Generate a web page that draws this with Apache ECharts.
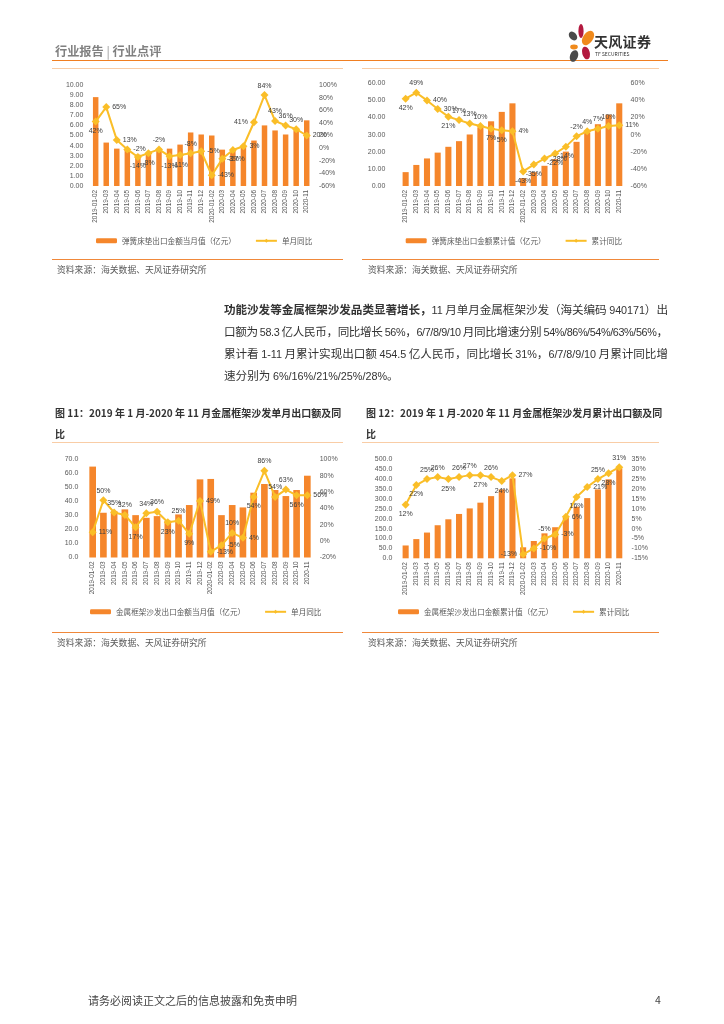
<!DOCTYPE html>
<html>
<head>
<meta charset="utf-8">
<script src="https://cdn.jsdelivr.net/npm/echarts@6/dist/echarts.min.js"></script>
<style>
  html,body{margin:0;padding:0;background:#fff;}
  body{width:724px;height:1024px;position:relative;overflow:hidden;font-family:"Noto Sans CJK SC","Noto Sans",sans-serif;}
  #chart{position:absolute;left:0;top:0;width:724px;height:1024px;}
  .t{position:absolute;white-space:nowrap;}
  .hl{position:absolute;height:0;}
  .para{position:absolute;left:224px;font-size:11.6px;line-height:16px;color:#333;white-space:nowrap;}
  .para .lat{font-size:10.8px;font-family:"Liberation Sans","Noto Sans",sans-serif;}
  .src{position:absolute;font-size:8.8px;color:#595959;}
  .ft{position:absolute;font-size:10px;font-weight:bold;color:#333;}
</style>
</head>
<body>
<div id="chart"></div>

<!-- header -->
<div class="t" style="left:55px;top:42px;font-size:12.2px;color:#808080;font-weight:bold;">行业报告 <span style="font-weight:normal;color:#999">|</span> 行业点评</div>
<div class="hl" style="left:52px;top:60px;width:616px;border-top:1.5px solid #F07F22;"></div>
<svg style="position:absolute;left:566px;top:22px" width="30" height="42" viewBox="0 0 30 42">
  <ellipse cx="15" cy="9" rx="2.6" ry="7" fill="#B3193F"/>
  <ellipse cx="7" cy="14" rx="3.6" ry="5" transform="rotate(-40 7 14)" fill="#4A4A4A"/>
  <ellipse cx="22" cy="16" rx="5" ry="8" transform="rotate(35 22 16)" fill="#F08A1C"/>
  <ellipse cx="8" cy="25" rx="3.8" ry="2.4" fill="#F08A1C"/>
  <ellipse cx="8" cy="34" rx="4" ry="6" transform="rotate(20 8 34)" fill="#4A4A4A"/>
  <ellipse cx="20" cy="31" rx="3.8" ry="6.5" transform="rotate(-15 20 31)" fill="#B3193F"/>
</svg>
<div class="t" style="left:594px;top:31px;font-size:14px;font-weight:bold;color:#333;letter-spacing:0.3px;">天风证券</div>
<div class="t" style="left:595px;top:50px;font-size:5px;color:#333;">TF SECURITIES</div>

<!-- panel lines top -->
<div class="hl" style="left:52px;top:68px;width:291px;border-top:1.2px solid #F9CDA6;"></div>
<div class="hl" style="left:362px;top:68px;width:297px;border-top:1.2px solid #F9CDA6;"></div>
<div class="hl" style="left:52px;top:258.5px;width:291px;border-top:1.2px solid #F0883A;"></div>
<div class="hl" style="left:362px;top:258.5px;width:297px;border-top:1.2px solid #F0883A;"></div>
<div class="src" style="left:57px;top:263px;">资料来源：海关数据、天风证券研究所</div>
<div class="src" style="left:368px;top:263px;">资料来源：海关数据、天风证券研究所</div>

<!-- paragraph -->
<div class="para fit" style="top:301px;"><b>功能沙发等金属框架沙发品类显著增长，</b>11 月单月金属框架沙发（海关编码 940171）出</div>
<div class="para fit" style="top:323px;">口额为 58.3 亿人民币，同比增长 56%，6/7/8/9/10 月同比增速分别 54%/86%/54%/63%/56%，</div>
<div class="para fit" style="top:345px;">累计看 1-11 月累计实现出口额 454.5 亿人民币，同比增长 31%，6/7/8/9/10 月累计同比增</div>
<div class="para nofit" style="top:367px;">速分别为 6%/16%/21%/25%/28%。</div>

<!-- figure titles -->
<div class="ft" style="left:55px;top:405px;">图 11：2019 年 1 月-2020 年 11 月金属框架沙发单月出口额及同</div>
<div class="ft" style="left:55px;top:426px;">比</div>
<div class="ft" style="left:366px;top:405px;">图 12：2019 年 1 月-2020 年 11 月金属框架沙发月累计出口额及同</div>
<div class="ft" style="left:366px;top:426px;">比</div>
<div class="hl" style="left:52px;top:441.5px;width:291px;border-top:1.2px solid #F9CDA6;"></div>
<div class="hl" style="left:362px;top:441.5px;width:297px;border-top:1.2px solid #F9CDA6;"></div>
<div class="hl" style="left:52px;top:631.5px;width:291px;border-top:1.2px solid #F0883A;"></div>
<div class="hl" style="left:362px;top:631.5px;width:297px;border-top:1.2px solid #F0883A;"></div>
<div class="src" style="left:57px;top:636px;">资料来源：海关数据、天风证券研究所</div>
<div class="src" style="left:368px;top:636px;">资料来源：海关数据、天风证券研究所</div>

<!-- footer -->
<div class="t" style="left:88px;top:992px;font-size:11px;color:#444;">请务必阅读正文之后的信息披露和免责申明</div>
<div class="t" style="left:655px;top:992px;font-size:10.5px;color:#444;">4</div>

<script>
// ---------- data ----------
const categories = ['2019-01-02','2019-03','2019-04','2019-05','2019-06','2019-07','2019-08','2019-09','2019-10','2019-11','2019-12',
  '2020-01-02','2020-03','2020-04','2020-05','2020-06','2020-07','2020-08','2020-09','2020-10','2020-11'];

// Chart A: 弹簧床垫 单月
const springMonthly = [8.8, 4.3, 3.7, 3.6, 3.1, 3.2, 3.7, 3.7, 4.1, 5.3, 5.1, 5.0, 3.6, 3.6, 3.9, 4.5, 6.0, 5.5, 5.1, 5.5, 6.5];
const springMonthYoY = [42, 65, 13, -2, -14, -8, -2, -13, -11, -8, -5, -43, -17, -3, 3, 41, 84, 43, 36, 30, 20];
// Chart B: 弹簧床垫 累计
const springCum = [8.1, 12.3, 16.1, 19.5, 22.9, 26.2, 30.1, 34.3, 37.8, 43.3, 48.3, 4.6, 8.1, 11.8, 15.7, 20.1, 25.8, 31.3, 36.1, 41.7, 48.3];
const springCumYoY = [42, 49, 40, 30, 21, 17, 13, 10, 7, 5, 4, -43, -35, -28, -22, -14, -2, 4, 7, 10, 11];
// Chart C: 金属框架沙发 单月
const sofaMonthly = [64.8, 31.9, 33.0, 34.3, 30.2, 28.3, 29.5, 26.2, 30.7, 37.4, 55.7, 56.0, 30.2, 37.4, 35.7, 46.2, 52.4, 48.1, 43.8, 48.1, 58.3];
const sofaMonthYoY = [11, 50, 35, 32, 17, 34, 36, 23, 25, 9, 49, -13, -5, 10, 4, 54, 86, 54, 63, 56, 56];
// Chart D: 金属框架沙发 累计
const sofaCum = [64.8, 97.0, 130.0, 167.0, 197.0, 224.0, 252.0, 281.0, 314.0, 348.0, 404.0, 55.6, 87.5, 126.0, 157.0, 207.0, 261.0, 304.0, 348.0, 399.0, 454.5];
const sofaCumYoY = [12, 22, 25, 26, 25, 26, 27, 27, 26, 24, 27, -13, -10, -5, -3, 6, 16, 21, 25, 28, 31];

const names = {
  aBar: '弹簧床垫出口金额当月值（亿元）', aLine: '单月同比',
  bBar: '弹簧床垫出口金额累计值（亿元）', bLine: '累计同比',
  cBar: '金属框架沙发出口金额当月值（亿元）', cLine: '单月同比 ',
  dBar: '金属框架沙发出口金额累计值（亿元）', dLine: '累计同比 '
};

// ---------- paragraph typesetting (layout only) ----------
document.querySelectorAll('.para').forEach(el => {
  const walk = node => {
    Array.from(node.childNodes).forEach(ch => {
      if (ch.nodeType === 3) {
        const html = ch.textContent.replace(/[&<>]/g, '').replace(/([0-9A-Za-z.%\/\-]+)/g, '<span class="lat">$1</span>');
        const tmp = document.createElement('span');
        tmp.innerHTML = html;
        ch.replaceWith(...tmp.childNodes);
      } else if (ch.nodeType === 1) walk(ch);
    });
  };
  walk(el);
});
document.querySelectorAll('.para.fit').forEach(el => {
  const target = 444;
  const w = el.getBoundingClientRect().width;
  const n = el.textContent.length - 1;
  el.style.letterSpacing = ((target - w) / n) + 'px';
});

// ---------- styles ----------
const BAR = '#F5862B', LINE = '#FABE28', TXT = '#595959';
const posA = ['bottom','right','right','right','bottom','bottom','top','bottom','bottom','top','right','right','right','bottom','right','left','top','top','top','top','right'];
const posB = ['bottom','top','right','right','bottom','top','top','top','bottom','bottom','right','bottom','bottom','right','bottom','bottom','top','top','top','top','right'];
const posC = ['right','top','top','top','bottom','top','top','bottom','top','bottom','right','right','right','top','right','bottom','top','top','top','bottom','right'];
const posD = ['bottom','bottom','top','top','bottom','top','top','bottom','top','bottom','right','left','right','top','right','right','bottom','right','top','bottom','top'];

const grids = [
  {left: 90.4, top: 85, width: 221.6, height: 101},
  {left: 400.3, top: 83.3, width: 224.3, height: 102.7},
  {left: 87.3, top: 459.3, width: 225.4, height: 98.2},
  {left: 400.3, top: 459.3, width: 224.3, height: 99}
];

function xAx(i){
  return {type:'category', gridIndex:i, data:categories, boundaryGap:true,
    axisLine:{show:false}, axisTick:{show:false},
    axisLabel:{interval:0, rotate:90, fontSize:6.4, color:TXT, margin:4, fontFamily:'Liberation Sans'}};
}
function yAx(i, min, max, step, fmt, m){
  return {type:'value', gridIndex:i, min:min, max:max, interval:step, splitLine:{show:false},
    axisLine:{show:false}, axisTick:{show:false},
    axisLabel:{formatter:fmt, fontSize:7, color:TXT, margin:m, fontFamily:'Liberation Sans'}};
}
const f2 = v => v.toFixed(2), f1 = v => v.toFixed(1), fp = v => v + '%';

function barS(name, data, i, w){
  return {type:'bar', name:name, xAxisIndex:i, yAxisIndex:2*i, data:data, barWidth:w,
    itemStyle:{color:BAR}, z:2};
}
function lineS(name, data, i, pos){
  return {type:'line', name:name, xAxisIndex:i, yAxisIndex:2*i+1,
    data:data.map((v,k)=>({value:v, label:{position:pos[k]}})),
    symbol:'diamond', symbolSize:8, lineStyle:{color:LINE, width:2}, itemStyle:{color:LINE},
    label:{show:true, formatter:'{c}%', fontSize:7, color:'#404040', distance:2, fontFamily:'Liberation Sans'}, z:5};
}
function leg(left, top, data){
  return {left:left, top:top, padding:0, itemWidth:21, itemHeight:5, itemGap:19, data:data,
    textStyle:{fontSize:7.6, color:TXT, fontFamily:'Noto Sans CJK SC'}};
}

const chart = echarts.init(document.getElementById('chart'));
chart.setOption({
  animation:false,
  grid: grids,
  xAxis: [xAx(0), xAx(1), xAx(2), xAx(3)],
  yAxis: [
    yAx(0, 0, 10, 1, f2, 7), yAx(0, -60, 100, 20, fp, 7),
    yAx(1, 0, 60, 10, f2, 15), yAx(1, -60, 60, 20, fp, 6),
    yAx(2, 0, 70, 10, f1, 9), yAx(2, -20, 100, 20, fp, 7),
    yAx(3, 0, 500, 50, f1, 8), yAx(3, -15, 35, 5, fp, 7)
  ],
  legend: [
    leg(96, 237, [names.aBar, names.aLine]),
    leg(405.7, 237, [names.bBar, names.bLine]),
    leg(90, 608, [names.cBar, names.cLine]),
    leg(398, 608, [names.dBar, names.dLine])
  ],
  series: [
    barS(names.aBar, springMonthly, 0, '52%'), lineS(names.aLine, springMonthYoY, 0, posA),
    barS(names.bBar, springCum, 1, '57%'), lineS(names.bLine, springCumYoY, 1, posB),
    barS(names.cBar, sofaMonthly, 2, '62%'), lineS(names.cLine, sofaMonthYoY, 2, posC),
    barS(names.dBar, sofaCum, 3, '57%'), lineS(names.dLine, sofaCumYoY, 3, posD)
  ]
});
</script>
</body>
</html>
